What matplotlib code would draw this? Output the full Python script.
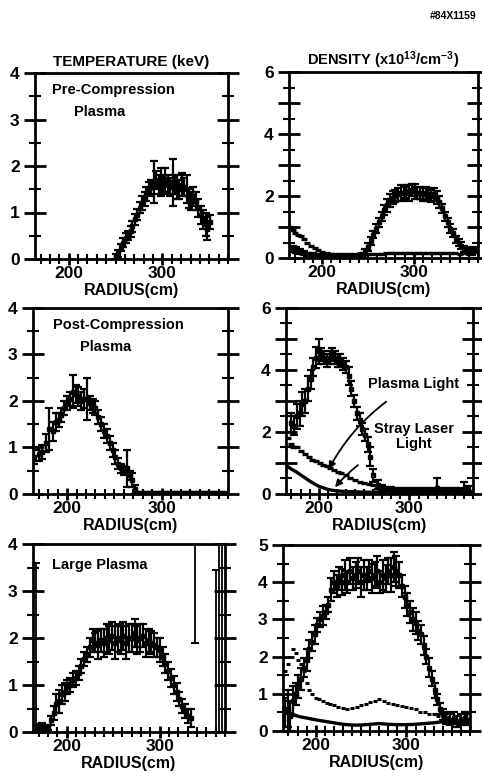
import numpy as np
import matplotlib
matplotlib.use("Agg")
import matplotlib.pyplot as plt
from matplotlib.ticker import MultipleLocator, FixedLocator

FAM = ['Liberation Sans', 'DejaVu Sans']
plt.rcParams['font.family'] = FAM
plt.rcParams['font.weight'] = 'bold'
plt.rcParams['mathtext.fontset'] = 'custom'
plt.rcParams['mathtext.rm'] = 'Liberation Sans:bold'
plt.rcParams['mathtext.default'] = 'rm'

# ---------------- data ----------------
# Panel A: temperature, pre-compression plasma
rA = [250, 253, 256, 258, 261, 263, 266, 268, 271, 273, 276, 278, 281, 283, 286, 288, 291, 293, 296, 298,
      301, 303, 306, 308, 311, 313, 316, 318, 321, 323, 326, 328, 331, 333, 336, 338, 341, 343, 346, 348, 351]
TA = [0.05, 0.12, 0.25, 0.35, 0.45, 0.5, 0.6, 0.7, 0.85, 0.95, 1.1, 1.2, 1.3, 1.4, 1.5, 1.55, 1.65, 1.7, 1.6, 1.65,
      1.6, 1.7, 1.6, 1.55, 1.65, 1.6, 1.55, 1.5, 1.6, 1.55, 1.5, 1.3, 1.25, 1.35, 1.25, 1.1, 0.95, 0.85, 0.75, 0.65, 0.8]
eA = [0.05, 0.08, 0.08, 0.1, 0.1, 0.1, 0.12, 0.12, 0.12, 0.12, 0.12, 0.15, 0.15, 0.15, 0.15, 0.15, 0.45, 0.2, 0.2, 0.3,
      0.2, 0.25, 0.2, 0.2, 0.5, 0.2, 0.25, 0.2, 0.25, 0.2, 0.3, 0.2, 0.2, 0.2, 0.2, 0.2, 0.2, 0.2, 0.25, 0.25, 0.15]

# Panel B: density, pre-compression (main + stray/baseline)
rB = [168, 172, 176, 180, 185, 190, 195, 200, 205, 210, 215, 220, 225, 230, 235, 240, 244, 247, 250, 253, 256, 259,
      262, 265, 268, 271, 274, 277, 280, 283, 286, 289, 292, 295, 298, 301, 304, 307, 310, 313, 316, 319, 322, 325,
      328, 331, 334, 337, 340, 343, 346, 349, 352, 355, 358, 361, 364, 367]
nB = [0.3, 0.25, 0.2, 0.15, 0.12, 0.1, 0.08, 0.08, 0.08, 0.08, 0.08, 0.08, 0.08, 0.08, 0.08, 0.08, 0.1, 0.2, 0.35,
      0.55, 0.75, 0.95, 1.15, 1.35, 1.55, 1.7, 1.85, 1.95, 2.0, 2.05, 2.1, 2.1, 2.15, 2.1, 2.2, 2.15, 2.1, 2.1, 2.05,
      2.1, 2.05, 2.0, 2.05, 1.95, 1.8, 1.6, 1.35, 1.15, 0.95, 0.8, 0.6, 0.5, 0.4, 0.3, 0.25, 0.2, 0.2, 0.25]
eB = [0.1, 0.1, 0.08, 0.06, 0.05, 0.05, 0.05, 0.05, 0.05, 0.05, 0.05, 0.05, 0.05, 0.05, 0.05, 0.05, 0.06, 0.1, 0.12,
      0.12, 0.12, 0.15, 0.15, 0.15, 0.15, 0.2, 0.2, 0.2, 0.2, 0.2, 0.25, 0.2, 0.2, 0.25, 0.2, 0.25, 0.2, 0.2, 0.2,
      0.2, 0.2, 0.2, 0.2, 0.2, 0.2, 0.15, 0.15, 0.15, 0.15, 0.12, 0.12, 0.12, 0.12, 0.1, 0.1, 0.1, 0.1, 0.1]
rB2 = [165, 168, 171, 174, 177, 180, 184, 188, 192, 196, 200, 205, 210, 215, 220, 225, 230, 235, 240, 245, 250, 255,
       260, 265, 270, 275, 280, 285, 290, 295, 300, 305, 310, 315, 320, 325, 330, 335, 340, 345, 350, 355, 360, 365]
nB2 = [1.0, 0.9, 0.8, 0.75, 0.7, 0.6, 0.5, 0.4, 0.32, 0.25, 0.2, 0.15, 0.12, 0.1, 0.1, 0.08, 0.08, 0.08, 0.08, 0.1,
       0.12, 0.12, 0.13, 0.14, 0.15, 0.15, 0.16, 0.15, 0.17, 0.16, 0.15, 0.17, 0.15, 0.16, 0.17, 0.15, 0.16, 0.15,
       0.16, 0.15, 0.14, 0.16, 0.17, 0.2]

# Panel C: temperature, post-compression plasma
rC = [165, 170, 174, 178, 181, 185, 188, 191, 194, 197, 200, 203, 206, 209, 212, 215, 218, 221, 224, 227, 230, 233,
      236, 239, 242, 245, 248, 251, 254, 257, 260, 263, 266, 269, 272, 275, 280, 285, 290, 295, 300, 305, 310, 315,
      320, 325, 330, 335, 340, 345, 350, 355, 360, 365]
TC = [0.8, 0.85, 0.9, 1.1, 1.4, 1.35, 1.55, 1.6, 1.7, 1.85, 1.95, 2.05, 2.2, 2.15, 2.1, 2.0, 2.05, 2.05, 1.95, 1.9,
      1.85, 1.65, 1.5, 1.35, 1.25, 1.1, 0.95, 0.8, 0.65, 0.55, 0.5, 0.55, 0.4, 0.3, 0.1, 0.03, 0.02, 0.02, 0.02, 0.02,
      0.02, 0.02, 0.03, 0.02, 0.02, 0.02, 0.02, 0.03, 0.02, 0.02, 0.02, 0.02, 0.02, 0.02]
eC = [0.15, 0.15, 0.15, 0.2, 0.45, 0.2, 0.2, 0.15, 0.15, 0.15, 0.15, 0.15, 0.35, 0.2, 0.2, 0.2, 0.2, 0.45, 0.15, 0.15,
      0.15, 0.15, 0.15, 0.15, 0.15, 0.15, 0.15, 0.15, 0.12, 0.1, 0.1, 0.4, 0.1, 0.15, 0.1, 0.02, 0.02, 0.02, 0.02,
      0.02, 0.02, 0.02, 0.02, 0.02, 0.02, 0.02, 0.02, 0.02, 0.02, 0.02, 0.02, 0.02, 0.02, 0.02]

# Panel D: density, post-compression (main, plasma light, stray laser light)
rD = [170, 173, 176, 179, 182, 185, 188, 191, 194, 197, 200, 203, 206, 209, 212, 215, 218, 221, 224, 227, 230, 233,
      236, 239, 242, 245, 248, 251, 254, 257, 260, 265, 270, 275, 280, 285, 290, 295, 300, 305, 310, 315, 320, 325,
      330, 335, 340, 345, 350, 355, 360, 365]
nD = [2.3, 2.2, 2.5, 2.6, 2.9, 3.0, 3.4, 3.7, 4.1, 4.4, 4.6, 4.5, 4.4, 4.3, 4.4, 4.5, 4.4, 4.3, 4.3, 4.2, 4.1, 3.8,
      3.4, 3.0, 2.6, 2.4, 2.1, 1.9, 1.6, 1.2, 0.6, 0.3, 0.2, 0.15, 0.15, 0.12, 0.12, 0.12, 0.12, 0.1, 0.12, 0.12,
      0.12, 0.12, 0.2, 0.12, 0.12, 0.12, 0.12, 0.12, 0.15, 0.15]
eD = [0.3, 0.3, 0.4, 0.4, 0.4, 0.4, 0.4, 0.3, 0.3, 0.35, 0.4, 0.2, 0.2, 0.2, 0.2, 0.2, 0.2, 0.2, 0.2, 0.2, 0.2, 0.3,
      0.25, 0.2, 0.2, 0.2, 0.2, 0.2, 0.25, 0.3, 0.2, 0.15, 0.1, 0.08, 0.08, 0.08, 0.08, 0.08, 0.08, 0.08, 0.08, 0.08,
      0.08, 0.08, 0.3, 0.08, 0.08, 0.08, 0.08, 0.08, 0.25, 0.1]
rD_pl = [166, 169, 172, 176, 180, 185, 189, 193, 197, 201, 205, 209, 213, 217, 221, 225, 230, 235, 240, 245, 250, 255,
         260, 265, 270, 275, 280, 290, 300, 310, 320, 330, 340, 350, 360]
nD_pl = [1.8, 1.6, 1.5, 1.5, 1.4, 1.3, 1.2, 1.1, 1.05, 1.0, 0.95, 0.9, 0.85, 0.78, 0.72, 0.68, 0.6, 0.52, 0.46, 0.4,
         0.36, 0.32, 0.28, 0.24, 0.2, 0.18, 0.16, 0.15, 0.14, 0.13, 0.13, 0.12, 0.12, 0.12, 0.12]
rD_sl = [165, 170, 175, 180, 185, 190, 195, 200, 205, 210, 215, 220, 230, 240, 250, 260, 270, 280, 290, 300, 320, 340,
         360, 368]
nD_sl = [0.9, 0.8, 0.72, 0.62, 0.52, 0.42, 0.33, 0.25, 0.2, 0.15, 0.12, 0.1, 0.08, 0.07, 0.06, 0.06, 0.06, 0.06,
         0.06, 0.06, 0.06, 0.06, 0.07, 0.08]

# Panel E: temperature, large plasma
rE = [168, 171, 174, 177, 180, 183, 186, 189, 192, 195, 198, 201, 204, 207, 210, 213, 216, 219, 222, 225, 228, 231,
      234, 237, 240, 243, 246, 249, 252, 255, 258, 261, 264, 267, 270, 273, 276, 279, 282, 285, 288, 291, 294, 297,
      300, 303, 306, 309, 312, 315, 318, 321, 324, 327, 330, 333]
TE = [0.05, 0.08, 0.1, 0.08, 0.1, 0.25, 0.4, 0.6, 0.65, 0.8, 0.85, 0.95, 1.0, 1.1, 1.15, 1.25, 1.4, 1.55, 1.65, 1.8,
      1.95, 1.9, 1.85, 1.95, 1.9, 2.0, 1.95, 2.05, 1.9, 2.0, 1.95, 2.05, 1.9, 2.0, 2.0, 2.1, 1.95, 2.0, 2.05, 1.9,
      1.95, 1.9, 1.85, 1.8, 1.75, 1.6, 1.45, 1.3, 1.15, 1.0, 0.85, 0.7, 0.55, 0.45, 0.35, 0.3]
eE = [0.1, 0.1, 0.1, 0.05, 0.05, 0.1, 0.15, 0.2, 0.25, 0.2, 0.2, 0.15, 0.15, 0.15, 0.15, 0.15, 0.15, 0.15, 0.15, 0.2,
      0.25, 0.2, 0.3, 0.25, 0.3, 0.3, 0.3, 0.3, 0.35, 0.3, 0.3, 0.3, 0.35, 0.3, 0.3, 0.3, 0.3, 0.3, 0.25, 0.3, 0.25,
      0.25, 0.25, 0.2, 0.25, 0.2, 0.2, 0.2, 0.2, 0.2, 0.2, 0.15, 0.15, 0.15, 0.15, 0.2]
rE_edge = [167, 338, 360, 364, 367]
TE_edge = [0.05, 4.6, 0.2, 0.1, 0.05]
eE_lo = [0.05, 2.7, 0.2, 0.1, 0.05]
eE_hi = [3.55, 0.0, 3.25, 4.2, 4.2]

# Panel F: density, large plasma (main, plasma light, stray laser light)
rF = [166, 169, 172, 175, 178, 181, 184, 187, 190, 193, 196, 199, 202, 205, 208, 211, 214, 217, 220, 223, 226, 229,
      232, 235, 238, 241, 244, 247, 250, 253, 256, 259, 262, 265, 268, 271, 274, 277, 280, 283, 286, 289, 292, 295,
      298, 301, 304, 307, 310, 313, 316, 319, 322, 325, 328, 331, 334, 337, 340, 344, 348, 352, 356, 360, 364, 367]
nF = [0.5, 0.6, 0.4, 0.8, 1.0, 1.2, 1.4, 1.7, 1.9, 2.2, 2.4, 2.6, 2.85, 3.0, 3.1, 3.2, 3.4, 3.8, 4.0, 3.9, 4.1, 4.0,
      4.2, 4.0, 4.3, 4.1, 4.2, 4.3, 4.0, 4.2, 4.1, 4.3, 4.1, 4.2, 4.3, 4.0, 4.2, 4.1, 4.3, 4.2, 4.4, 4.3, 4.2, 3.9,
      3.6, 3.4, 3.2, 3.0, 2.9, 2.7, 2.6, 2.3, 2.0, 1.7, 1.4, 1.1, 0.85, 0.6, 0.45, 0.35, 0.3, 0.35, 0.25, 0.3, 0.35, 0.3]
eF = [0.4, 0.5, 0.4, 0.4, 0.3, 0.3, 0.3, 0.25, 0.3, 0.25, 0.25, 0.25, 0.2, 0.2, 0.25, 0.2, 0.2, 0.3, 0.3, 0.3, 0.3,
      0.35, 0.4, 0.3, 0.35, 0.3, 0.35, 0.35, 0.4, 0.4, 0.3, 0.3, 0.4, 0.35, 0.4, 0.3, 0.4, 0.35, 0.35, 0.45, 0.4, 0.4,
      0.35, 0.3, 0.3, 0.3, 0.3, 0.3, 0.3, 0.25, 0.25, 0.25, 0.2, 0.25, 0.2, 0.2, 0.15, 0.15, 0.15, 0.15, 0.15, 0.15,
      0.15, 0.15, 0.15, 0.15]
rF_pl = [166, 169, 172, 175, 178, 181, 184, 187, 190, 193, 196, 200, 204, 208, 212, 216, 220, 225, 230, 235, 240, 245,
         250, 255, 260, 265, 270, 275, 280, 285, 290, 295, 300, 305, 310, 315, 320, 325, 330, 335, 340, 345, 350, 355,
         360, 365]
nF_pl = [1.6, 1.8, 2.0, 2.2, 2.1, 1.9, 1.8, 1.6, 1.3, 1.1, 1.0, 0.9, 0.85, 0.8, 0.75, 0.72, 0.7, 0.65, 0.62, 0.6,
         0.62, 0.65, 0.7, 0.72, 0.78, 0.8, 0.85, 0.8, 0.75, 0.72, 0.7, 0.68, 0.65, 0.62, 0.58, 0.52, 0.5, 0.45, 0.45,
         0.4, 0.35, 0.35, 0.3, 0.3, 0.35, 0.3]
rF_sl = [165, 170, 175, 180, 185, 190, 200, 210, 220, 230, 240, 250, 260, 270, 280, 290, 300, 310, 320, 330, 340, 350,
         360, 368]
nF_sl = [0.5, 0.5, 0.45, 0.4, 0.37, 0.35, 0.3, 0.26, 0.22, 0.18, 0.16, 0.16, 0.18, 0.2, 0.18, 0.17, 0.17, 0.18, 0.2,
         0.22, 0.25, 0.25, 0.22, 0.2]

# text
title_T = "TEMPERATURE (keV)"
title_n = r"DENSITY (x10$^{13}$/cm$^{-3}$)"
xlabel = "RADIUS(cm)"
fig_id = "#84X1159"

# ---------------- figure ----------------
W, H = 482, 778
fig = plt.figure(figsize=(W / 100, H / 100), dpi=100)
FS = 10.5


def box(l, r, t, b):
    return [l / W, 1 - b / H, (r - l) / W, (b - t) / H]


def style(ax, ymax, ylabels):
    ax.set_xlim(164, 370)
    ax.set_ylim(0, ymax)
    for s in ax.spines.values():
        s.set_linewidth(2)
    ax.xaxis.set_major_locator(FixedLocator([200, 300]))
    ax.xaxis.set_minor_locator(MultipleLocator(10))
    ax.yaxis.set_minor_locator(MultipleLocator(0.5))
    ax.set_yticks(np.arange(0, ymax + 0.01, 1))
    ax.set_yticklabels([("%d" % v if v in ylabels else "") for v in np.arange(0, ymax + 0.01, 1)])
    ax.tick_params(axis='y', which='major', direction='inout', length=16, width=2, left=True, right=True,
                   labelsize=FS + 2, pad=3)
    ax.tick_params(axis='y', which='minor', direction='inout', length=8, width=1.5, left=True, right=True)
    ax.tick_params(axis='x', which='major', direction='inout', length=8, width=2, labelsize=FS + 2, pad=1)
    ax.tick_params(axis='x', which='minor', direction='inout', length=7, width=1.5)
    for lab in ax.get_xticklabels() + ax.get_yticklabels():
        lab.set_fontweight('bold')
    ax.set_xlabel(xlabel, fontsize=FS + 1, fontweight='bold', labelpad=1.5)


EB = dict(fmt='s', ms=3.4, color='k', ecolor='k', elinewidth=1.6, capsize=2.8, capthick=1.6)
DOT = dict(ls='none', marker='_', ms=4, mew=2.4, color='k')

# A
axA = fig.add_axes(box(35, 228, 73, 259))
axA.errorbar(rA, TA, yerr=eA, **EB)
style(axA, 4, [0, 1, 2, 3, 4])
axA.text(0.09, 0.91, "Pre-Compression", transform=axA.transAxes, fontsize=FS, fontweight='bold', va='center')
axA.text(0.20, 0.79, "Plasma", transform=axA.transAxes, fontsize=FS, fontweight='bold', va='center')
axA.set_title(title_T, fontsize=FS + 0.5, fontweight='bold', pad=5)

# B
axB = fig.add_axes(box(289, 478, 72, 258))
axB.errorbar(rB, nB, yerr=eB, **EB)
axB.plot(rB2, nB2, **DOT)
style(axB, 6, [0, 2, 4, 6])
axB.set_title(title_n, fontsize=FS, fontweight='bold', pad=5)

# C
axC = fig.add_axes(box(33, 228, 308, 494))
axC.errorbar(rC, TC, yerr=eC, **EB)
style(axC, 4, [0, 1, 2, 3, 4])
axC.text(0.10, 0.91, "Post-Compression", transform=axC.transAxes, fontsize=FS, fontweight='bold', va='center')
axC.text(0.24, 0.79, "Plasma", transform=axC.transAxes, fontsize=FS, fontweight='bold', va='center')

# D
axD = fig.add_axes(box(286, 473, 308, 494))
axD.errorbar(rD, nD, yerr=eD, **EB)
axD.plot(rD_pl, nD_pl, **DOT)
axD.plot(rD_sl, nD_sl, ls='-', lw=2.4, color='k')
style(axD, 6, [0, 2, 4, 6])
axD.annotate("Plasma Light", xy=(211, 0.8), xytext=(305, 3.55), fontsize=FS, fontweight='bold',
             ha='center', va='center',
             arrowprops=dict(arrowstyle='-|>', color='k', lw=1.3, shrinkA=10, shrinkB=0,
                             connectionstyle='arc3,rad=0.15'))
axD.annotate("Stray Laser\nLight", xy=(218, 0.22), xytext=(305, 1.85), fontsize=FS, fontweight='bold',
             ha='center', va='center', linespacing=1.1,
             arrowprops=dict(arrowstyle='-|>', color='k', lw=1.3, shrinkA=14, shrinkB=0,
                             connectionstyle='arc3,rad=0.15'))

# E
axE = fig.add_axes(box(33, 225, 544, 732))
axE.errorbar(rE, TE, yerr=eE, **EB)
axE.errorbar(rE_edge, TE_edge, yerr=[eE_lo, eE_hi], fmt='none', ecolor='k', elinewidth=1.3, capsize=3,
             capthick=1.4)
style(axE, 4, [0, 1, 2, 3, 4])
axE.text(0.10, 0.89, "Large Plasma", transform=axE.transAxes, fontsize=FS, fontweight='bold', va='center')

# F
axF = fig.add_axes(box(283, 470, 545, 731))
axF.errorbar(rF, nF, yerr=eF, **EB)
axF.plot(rF_pl, nF_pl, ls='none', marker='_', ms=3.5, mew=2.2, color='k')
axF.plot(rF_sl, nF_sl, ls='-', lw=2.4, color='k')
style(axF, 5, [0, 1, 2, 3, 4, 5])

fig.text(476 / W, 1 - 16 / H, fig_id, ha='right', va='center', fontsize=7.5, fontweight='bold')

fig.savefig("out.png", dpi=100)
